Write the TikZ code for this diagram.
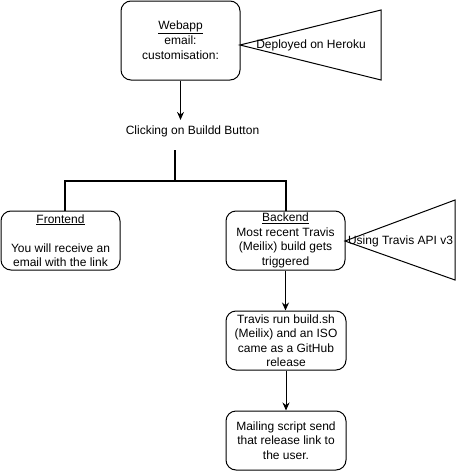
\documentclass[tikz,border=0pt]{standalone}
\usepackage{fontspec}
\setmainfont{Liberation Sans}
\usetikzlibrary{arrows.meta}

\begin{document}
\begin{tikzpicture}[x=1pt,y=-1pt,line width=1pt,
  caja/.style={draw,rounded corners=10pt,minimum width=119pt,minimum height=59pt,align=center,inner sep=0pt,font=\fontsize{12}{14.5}\selectfont},
  texto/.style={font=\fontsize{12}{14.5}\selectfont,inner sep=0pt},
  flecha/.style={-{Stealth[length=8pt,width=7pt]}},
  rama/.style={line width=2pt}]
\useasboundingbox (0,0) rectangle (456,471);
\node[caja,minimum height=79pt,font=\fontsize{12}{15}\selectfont] (webapp) at (180.5,40.5) {\underline{Webapp}\\email:\\customisation:};
\coordinate (heroku) at (240,45);
\draw (heroku)--(381,10)--(381,80)--cycle;
\node[texto] (deploy) at (311,45) {Deployed on Heroku};
\node[texto,inner ysep=5pt] (click) at (192.5,131) {Clicking on Buildd Button};
\draw[flecha] (webapp.south)--(webapp.south |- click.north);
\node[caja] (frontend) at (60.5,240.5) {\underline{Frontend}\\[14.5pt]You will receive an\\email with the link};
\node[caja] (backend) at (285.5,240.5) {\underline{Backend}\\Most recent Travis\\(Meilix) build gets\\triggered};
\coordinate (fork) at (175,150); \coordinate (split) at (175,180.5);
\draw[rama] (fork)--(split);
\draw[rama] (split)-|([xshift=4.5pt]frontend.north);
\draw[rama] (split)-|(backend.north);
\coordinate (travisapi) at (345,241);
\draw (travisapi)--(455,200)--(455,280)--cycle;
\node[texto] (api) at (400.5,241) {Using Travis API v3};
\node[caja,minimum width=120pt] (travis) at (286,340.5) {Travis run build.sh\\(Meilix) and an ISO\\came as a GitHub\\release};
\node[caja,minimum width=120pt] (mailing) at (286,440.5) {Mailing script send\\that release link to\\the user.};
\draw[flecha] (backend.south)--(backend.south |- travis.north);
\draw[flecha] (travis.south)--(mailing.north);
\end{tikzpicture}
\end{document}
